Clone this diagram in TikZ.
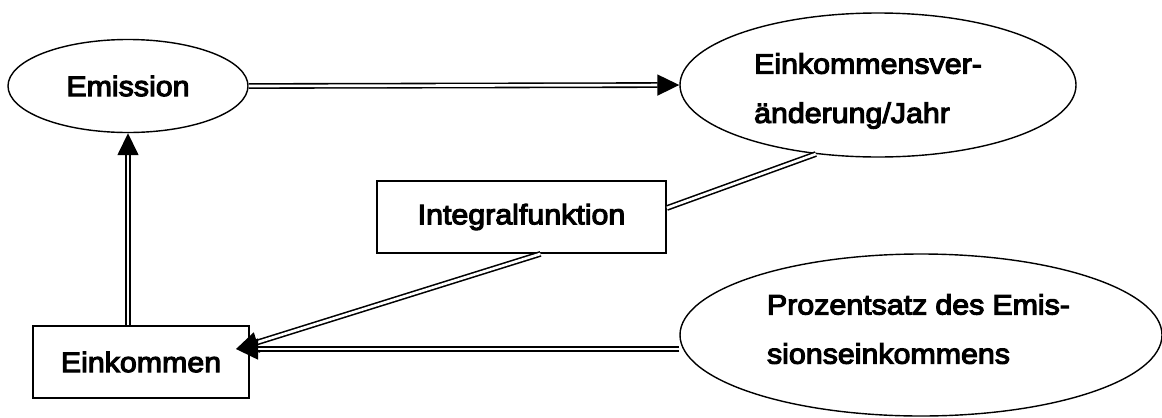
\documentclass[tikz,border=0pt]{standalone}
\usepackage{fontspec}
\setmainfont{Liberation Sans}[FakeStretch=1.08,FakeBold=4]
\usetikzlibrary{arrows.meta,shapes.geometric}

\tikzset{
  oval/.style={ellipse,draw,line width=0.8pt,inner sep=0pt},
  box/.style={rectangle,draw,line width=1pt,inner sep=0pt},
  txt/.style={font=\fontsize{16}{28}\selectfont,align=left},
  link/.style={draw,double,line width=0.9pt,double distance=1.5pt},
  flow/.style={link,-{Triangle[length=0.44cm,width=0.42cm]}},
}

\begin{document}
\begin{tikzpicture}
\useasboundingbox (0,0) rectangle (23.24,-8.34);
\begin{scope}[every node/.style={txt}]
    \node[oval,minimum width=4.8cm,minimum height=1.86cm] (emis) at (2.56,-1.72) {Emission};
    \node[oval,minimum width=7.92cm,minimum height=2.88cm] (chg) at (17.56,-1.7) {};
    \node (chgtxt) at (17.36,-1.82) {Einkommensver-\\änderung/Jahr};
    \node[box,minimum width=5.78cm,minimum height=1.44cm] (integ) at (10.43,-4.34) {Integralfunktion};
    \node[box,minimum width=4.32cm,minimum height=1.44cm] (eink) at (2.82,-7.24) {Einkommen};
    \node[oval,minimum width=9.64cm,minimum height=3.24cm] (pct) at (18.42,-6.7) {};
    \node (pcttxt) at (18.37,-6.58) {\makebox[6.06cm][s]{Prozentsatz des Emis-}\\sionseinkommens};
\end{scope}
\coordinate (einkin) at (4.72,-6.98);

% double connectors
\draw[flow] (emis.east) -- (chg.west);
\draw[flow] (eink.north -| emis.south) -- (emis.south);
\draw[link] (chg.228) -- ([yshift=0.18cm]integ.east);
\draw[flow] ([xshift=0.38cm]integ.south) -- (einkin);
\draw[flow] (einkin -| pct.west) -- (einkin);
\end{tikzpicture}
\end{document}
